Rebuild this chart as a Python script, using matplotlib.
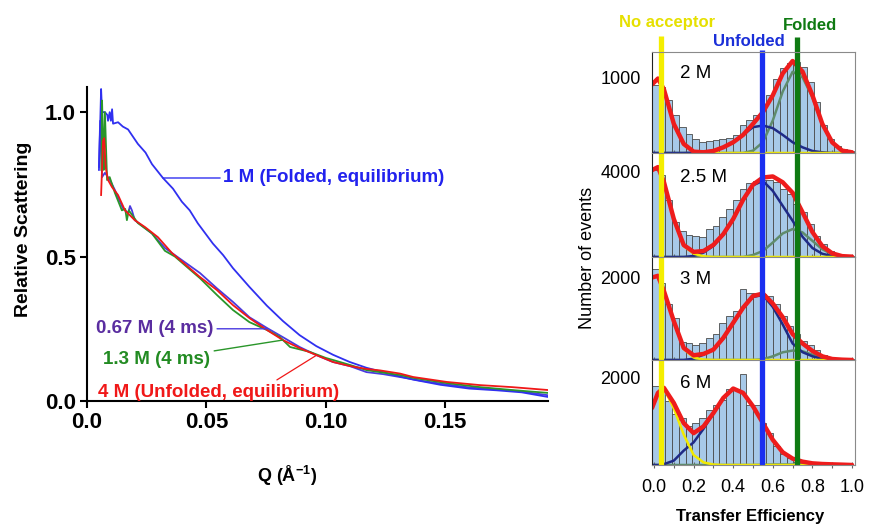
import numpy as np
import matplotlib
matplotlib.use("Agg")
import matplotlib.pyplot as plt
from matplotlib import font_manager

# ---------------- left panel: scattering curves ----------------
Q_1M = [0.0050, 0.0055, 0.0059, 0.0063, 0.0075, 0.0085, 0.0088, 0.0095, 0.0100, 0.0105,
        0.0109, 0.0130, 0.0150, 0.0172, 0.0213, 0.0245, 0.0272, 0.0318, 0.0360, 0.0397,
        0.0430, 0.0464, 0.0527, 0.0570, 0.0611, 0.0680, 0.0753, 0.0820, 0.0890, 0.0960,
        0.1030, 0.1100, 0.1170, 0.1240, 0.1310, 0.1366, 0.1480, 0.1600, 0.1715, 0.1820,
        0.1930]
I_1M = [0.80, 0.95, 1.08, 1.00, 1.00, 0.99, 0.97, 1.00, 0.97, 1.01,
        0.96, 0.965, 0.95, 0.94, 0.89, 0.86, 0.82, 0.772, 0.735, 0.69,
        0.66, 0.615, 0.545, 0.505, 0.46, 0.395, 0.33, 0.277, 0.228, 0.19,
        0.16, 0.135, 0.115, 0.10, 0.085, 0.074, 0.056, 0.043, 0.037, 0.030,
        0.014]

Q_067M = [0.0050, 0.0055, 0.0063, 0.0075, 0.0096, 0.0117, 0.0130, 0.0150, 0.0172, 0.0180,
          0.0188, 0.0200, 0.0272, 0.0326, 0.0368, 0.0473, 0.0544, 0.0611, 0.0680, 0.0753,
          0.0820, 0.0890, 0.0960, 0.1030, 0.1100, 0.1170, 0.1240, 0.1310, 0.1400, 0.1500,
          0.1600, 0.1715, 0.1820, 0.1930]
I_067M = [0.81, 0.97, 0.775, 0.79, 0.765, 0.73, 0.705, 0.668, 0.65, 0.675,
          0.66, 0.626, 0.58, 0.53, 0.505, 0.443, 0.39, 0.343, 0.29, 0.253,
          0.221, 0.187, 0.159, 0.135, 0.121, 0.10, 0.093, 0.083, 0.07, 0.058,
          0.047, 0.04, 0.033, 0.02]

Q_13M = [0.0060, 0.0063, 0.0066, 0.0070, 0.0075, 0.0084, 0.0095, 0.0117, 0.0146, 0.0160,
         0.0167, 0.0175, 0.0213, 0.0272, 0.0326, 0.0368, 0.0473, 0.0544, 0.0611, 0.0680,
         0.0753, 0.0808, 0.0850, 0.0933, 0.1000, 0.1030, 0.1100, 0.1170, 0.1226, 0.1310,
         0.1366, 0.1506, 0.1645, 0.1780, 0.1930]
I_13M = [0.80, 1.04, 0.94, 0.80, 1.00, 0.765, 0.775, 0.72, 0.66, 0.665,
         0.626, 0.66, 0.616, 0.58, 0.52, 0.50, 0.425, 0.367, 0.315, 0.273,
         0.246, 0.221, 0.187, 0.17, 0.149, 0.142, 0.125, 0.107, 0.10, 0.09,
         0.08, 0.062, 0.048, 0.038, 0.028]

Q_4M = [0.0059, 0.0067, 0.0072, 0.0078, 0.0088, 0.0105, 0.0130, 0.0159, 0.0200, 0.0243,
        0.0297, 0.0356, 0.0473, 0.0544, 0.0611, 0.0680, 0.0753, 0.0820, 0.0890, 0.0960,
        0.1030, 0.1100, 0.1170, 0.1226, 0.1310, 0.1366, 0.1506, 0.1645, 0.1780, 0.1930]
I_4M = [0.713, 0.90, 0.91, 0.81, 0.765, 0.74, 0.713, 0.66, 0.626, 0.602,
        0.567, 0.512, 0.429, 0.384, 0.332, 0.287, 0.246, 0.211, 0.183, 0.159,
        0.135, 0.121, 0.111, 0.106, 0.095, 0.083, 0.066, 0.055, 0.048, 0.038]

# ---------------- right panels: FRET histograms ----------------
PANEL_LABELS = ["2 M", "2.5 M", "3 M", "6 M"]
PANEL_YTICKS = [1000, 4000, 2000, 2000]

HIST_COUNTS = [
    [904, 873, 695, 496, 341, 252, 186, 150, 155, 177, 186, 195, 239, 376, 430,
     496, 629, 762, 983, 1116, 1183, 1205, 1138, 939, 673, 363, 186, 97, 53, 31],
    [4076, 3839, 2654, 1627, 1232, 1043, 995, 948, 1311, 1469, 1864, 2259, 2654, 3207, 3492,
     3571, 3602, 3602, 3523, 3207, 2970, 2496, 2101, 1548, 995, 600, 284, 158, 95, 47],
    [2206, 1880, 1351, 1026, 440, 415, 358, 415, 537, 619, 904, 1066, 1188, 1718, 1636,
     1636, 1612, 1555, 1351, 1066, 822, 619, 456, 374, 252, 130, 65, 41, 24, 16],
    [1810, 1771, 1463, 1178, 1078, 901, 963, 1078, 1271, 1386, 1502, 1733, 1733, 2079, 1386,
     1386, 963, 731, 439, 254, 154, 77, 54, 38, 31, 23, 15, 12, 8, 8],
]

E_FIT = [-0.01, 0.02, 0.05, 0.10, 0.15, 0.20, 0.25, 0.30, 0.35, 0.40, 0.45,
         0.50, 0.55, 0.60, 0.65, 0.70, 0.75, 0.80, 0.85, 0.90, 0.95, 1.00]

TOTAL_FIT = [
    [904, 983, 840, 385, 120, 18, 9, 27, 75, 142, 239, 385, 540, 762, 1050, 1214, 1075, 762, 384, 140, 31, 9],
    [4076, 4219, 3523, 1785, 560, 240, 280, 569, 1074, 1785, 2686, 3397, 3729, 3780, 3506, 3011, 2100, 1170, 510, 170, 40, 16],
    [2002, 2043, 1677, 944, 293, 114, 147, 252, 537, 904, 1270, 1555, 1612, 1370, 1040, 630, 402, 220, 89, 24, 8, 0],
    [1309, 1655, 1771, 1424, 962, 731, 886, 1193, 1540, 1755, 1655, 1347, 962, 577, 292, 146, 77, 38, 23, 15, 8, 0],
]
NOACC_FIT = [
    [904, 983, 840, 380, 110, 15, 0, 0, 0, 0, 0, 0, 0, 0, 0, 0, 0, 0, 0, 0, 0, 0],
    [4076, 4219, 3523, 1785, 521, 158, 32, 0, 0, 0, 0, 0, 0, 0, 0, 0, 0, 0, 0, 0, 0, 0],
    [2002, 2043, 1677, 944, 270, 60, 10, 0, 0, 0, 0, 0, 0, 0, 0, 0, 0, 0, 0, 0, 0, 0],
    [1309, 1655, 1760, 1300, 700, 230, 60, 10, 0, 0, 0, 0, 0, 0, 0, 0, 0, 0, 0, 0, 0, 0],
]
UNFOLDED_FIT = [
    [0, 0, 0, 0, 0, 4, 18, 31, 75, 142, 239, 341, 363, 328, 239, 142, 75, 27, 9, 0, 0, 0],
    [0, 0, 0, 0, 0, 47, 205, 521, 1043, 1754, 2654, 3365, 3571, 3100, 2400, 1700, 950, 420, 150, 47, 0, 0],
    [0, 0, 0, 0, 0, 32, 130, 252, 521, 887, 1254, 1530, 1579, 1286, 863, 400, 190, 90, 24, 0, 0, 0],
    [0, 0, 20, 100, 330, 520, 830, 1185, 1540, 1755, 1655, 1347, 962, 577, 292, 146, 70, 35, 20, 12, 6, 0],
]
FOLDED_FIT = [
    [0, 0, 0, 0, 0, 0, 0, 0, 0, 0, 0, 31, 142, 430, 811, 1072, 1000, 735, 375, 140, 31, 9],
    [0, 0, 0, 0, 0, 0, 0, 0, 0, 0, 0, 95, 284, 679, 1106, 1311, 1153, 758, 363, 126, 32, 0],
    [0, 0, 0, 0, 0, 0, 0, 0, 0, 0, 0, 0, 16, 90, 187, 230, 212, 130, 65, 24, 8, 0],
    [0, 0, 0, 0, 0, 0, 0, 0, 0, 0, 0, 0, 5, 10, 12, 10, 6, 3, 0, 0, 0, 0],
]

E_NO_ACCEPTOR = 0.035
E_UNFOLDED = 0.545
E_FOLDED = 0.72

# ---------------- figure ----------------
W, H = 869, 527
names = {f.name for f in font_manager.fontManager.ttflist}
SANS = "Liberation Sans" if "Liberation Sans" in names else "DejaVu Sans"
NARROW = "Liberation Sans Narrow" if "Liberation Sans Narrow" in names else SANS
plt.rcParams["font.family"] = SANS
plt.rcParams["mathtext.fontset"] = "custom"
plt.rcParams["mathtext.rm"] = SANS
plt.rcParams["mathtext.bf"] = SANS + ":bold"

fig = plt.figure(figsize=(W / 100, H / 100), dpi=100)

# left axes
ax = fig.add_axes([87 / W, 1 - 401 / H, 461 / W, 314 / H])
ax.plot(Q_067M, I_067M, color="#4a3ae0", lw=1.3)
ax.plot(Q_1M, I_1M, color="#3030f0", lw=1.3)
ax.plot(Q_13M, I_13M, color="#2a962a", lw=1.3)
ax.plot(Q_4M, I_4M, color="#f01818", lw=1.3)
ax.set_xlim(0, 0.193)
ax.set_ylim(0, 1.087)
ax.set_xticks([0.0, 0.05, 0.10, 0.15])
ax.set_xticklabels(["0.0", "0.05", "0.10", "0.15"])
ax.set_yticks([0.0, 0.5, 1.0])
ax.set_yticklabels(["0.0", "0.5", "1.0"])
for side in ["top", "right"]:
    ax.spines[side].set_visible(False)
for side in ["left", "bottom"]:
    ax.spines[side].set_linewidth(1.5)
ax.tick_params(direction="out", length=5, width=1.5, pad=3)
tick_size = 17 if NARROW != SANS else 16
for tl in ax.get_xticklabels() + ax.get_yticklabels():
    tl.set_fontfamily(NARROW)
    tl.set_fontweight("bold")
    tl.set_fontsize(tick_size)
ax.set_ylabel("Relative Scattering", fontsize=14, fontweight="bold")
ax.yaxis.set_label_coords(-0.12, 0.548)
ax.set_xlabel(r"Q (Å$^{\mathbf{-1}}$)", fontsize=13, fontweight="bold")
ax.xaxis.set_label_coords(0.434, -0.2)

lbl = dict(fontsize=13.5, fontweight="bold", va="center")
ax.annotate("1 M (Folded, equilibrium)", xy=(0.0318, 0.772), xytext=(0.0569, 0.772),
            color="#2222ee", ha="left", arrowprops=dict(arrowstyle="-", color="#3030f0", lw=1.0,
                                                        shrinkA=0, shrinkB=0), **lbl)
ax.annotate("0.67 M (4 ms)", xy=(0.0753, 0.25), xytext=(0.0527, 0.25),
            color="#5a2da0", ha="right", arrowprops=dict(arrowstyle="-", color="#4a3ae0", lw=1.0,
                                                         shrinkA=1, shrinkB=0), **lbl)
ax.annotate("1.3 M (4 ms)", xy=(0.082, 0.211), xytext=(0.0515, 0.142),
            color="#228b22", ha="right", arrowprops=dict(arrowstyle="-", color="#2a962a", lw=1.0,
                                                         shrinkA=1, shrinkB=0), **lbl)
ax.text(0.0046, 0.028, "4 M (Unfolded, equilibrium)", color="#f01818", ha="left", **lbl)
ax.annotate("", xy=(0.0962, 0.159), xytext=(0.0795, 0.073),
            arrowprops=dict(arrowstyle="-", color="#f01818", lw=0.9, shrinkA=0, shrinkB=0))

# right stacked panels
PANEL_TOPS = [52, 153, 257, 360]
PANEL_BOTTOMS = [153, 257, 360, 465]
YLIM_TOPS = [1333, 4880, 2500, 2410]
LABEL_Y = [0.79, 0.76, 0.777, 0.78]
bin_width = 0.034
bin_centers = -0.01 + bin_width / 2 + bin_width * np.arange(30)
vlines = [(E_NO_ACCEPTOR, "#f4ee00", 211), (E_UNFOLDED, "#1a2ff0", 26), (E_FOLDED, "#0f7a12", 198)]

for k in range(4):
    top, bottom = PANEL_TOPS[k], PANEL_BOTTOMS[k]
    a = fig.add_axes([652 / W, 1 - bottom / H, 203 / W, (bottom - top) / H])
    a.bar(bin_centers, HIST_COUNTS[k], width=bin_width, color="#a7c9e8",
          edgecolor="#4a4a4a", linewidth=0.6)
    a.plot(E_FIT, FOLDED_FIT[k], color="#5f8c6c", lw=1.8)
    a.plot(E_FIT, UNFOLDED_FIT[k], color="#1f2a86", lw=1.8)
    a.plot(E_FIT, NOACC_FIT[k], color="#f2ea00", lw=1.8)
    a.plot(E_FIT, TOTAL_FIT[k], color="#ee1c1c", lw=3.2, solid_capstyle="round")
    for pos, col, extra in vlines:
        a.axvline(pos, color=col, lw=3.8, solid_capstyle="butt")
        if k == 0:
            a.plot([pos, pos], [YLIM_TOPS[k], YLIM_TOPS[k] + extra], color=col, lw=3.8,
                   solid_capstyle="butt", clip_on=False)
    a.set_xlim(-0.0101, 1.015)
    a.set_ylim(0, YLIM_TOPS[k])
    a.set_yticks([PANEL_YTICKS[k]])
    a.set_yticklabels([str(PANEL_YTICKS[k])], fontsize=13)
    a.set_xticks(np.arange(0, 1.01, 0.1))
    if k == 3:
        a.set_xticklabels(["0.0", "", "0.2", "", "0.4", "", "0.6", "", "0.8", "", "1.0"], fontsize=13)
    else:
        a.set_xticklabels([])
    a.tick_params(axis="x", direction="inout", length=4, color="#666666", pad=8)
    a.tick_params(axis="y", length=0, pad=8)
    for side in ["top", "right", "bottom"]:
        a.spines[side].set_color("#8a8a8a")
    a.spines["left"].set_color("#222222")
    a.text(0.138, LABEL_Y[k], PANEL_LABELS[k], transform=a.transAxes, fontsize=13.5,
           ha="left", va="center")

fig.text(667 / W, 1 - 23 / H, "No acceptor", color="#e6e000", fontsize=12, fontweight="bold",
         ha="center", va="center")
fig.text(748.5 / W, 1 - 42 / H, "Unfolded", color="#1a2fd8", fontsize=12, fontweight="bold",
         ha="center", va="center")
fig.text(810.5 / W, 1 - 25 / H, "Folded", color="#0f7a12", fontsize=12, fontweight="bold",
         ha="center", va="center")
fig.text(587 / W, 1 - 258 / H, "Number of events", fontsize=13, rotation=90,
         ha="center", va="center")
fig.text(750 / W, 1 - 517 / H, "Transfer Efficiency", fontsize=12, fontweight="bold",
         ha="center", va="center")

fig.savefig("out.png", dpi=100)
